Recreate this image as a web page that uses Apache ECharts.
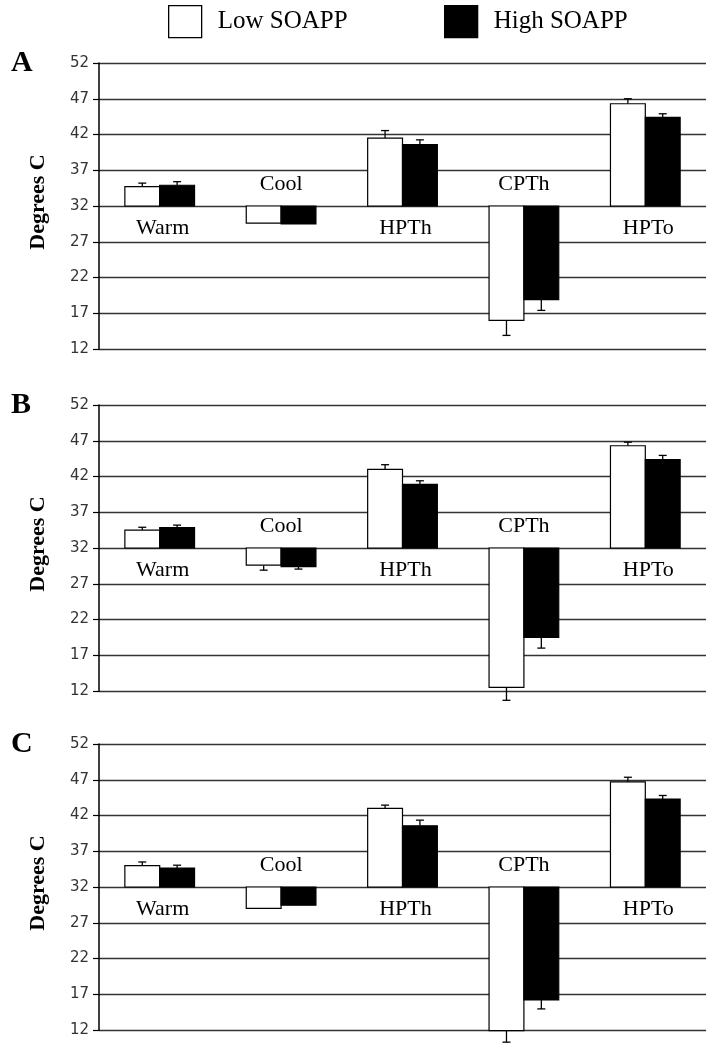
<!DOCTYPE html>
<html>
<head>
<meta charset="utf-8">
<script src="https://cdn.jsdelivr.net/npm/echarts@6/dist/echarts.min.js"></script>
<style>
html,body{margin:0;padding:0;background:#fff;}
#chart{width:714px;height:1050px;}
</style>
</head>
<body>
<div id="chart"></div>
<script>
// ---- data ----
const categories = ['Warm', 'Cool', 'HPTh', 'CPTh', 'HPTo'];
const panels = ['A', 'B', 'C'];
const seriesNames = ['Low SOAPP', 'High SOAPP'];

const lowA     = [34.7, 29.6, 41.5, 16.0, 46.3];
const lowAErr  = [0.5, 0, 1.05, 2.1, 0.7];
const highA    = [34.9, 29.5, 40.6, 18.9, 44.4];
const highAErr = [0.5, 0, 0.65, 1.5, 0.5];

const lowB     = [34.5, 29.6, 43.0, 12.5, 46.3];
const lowBErr  = [0.4, 0.7, 0.65, 1.8, 0.5];
const highB    = [34.85, 29.4, 40.9, 19.5, 44.35];
const highBErr = [0.35, 0.35, 0.5, 1.5, 0.6];

const lowC     = [35.0, 29.0, 43.0, 11.9, 46.7];
const lowCErr  = [0.5, 0, 0.45, 1.6, 0.65];
const highC    = [34.65, 29.45, 40.55, 16.2, 44.3];
const highCErr = [0.4, 0, 0.8, 1.25, 0.5];

const yMin = 12, yMax = 52, yStep = 5;
const baseline = 32;
const yTitle = 'Degrees C';

// ---- build ----
const panelData = [
  {low: lowA, lowErr: lowAErr, high: highA, highErr: highAErr},
  {low: lowB, lowErr: lowBErr, high: highB, highErr: highBErr},
  {low: lowC, lowErr: lowCErr, high: highC, highErr: highCErr}
];
const gridTops = [63, 405, 744];
const gridH = 286;
const BAR_FRAC = 0.287;
const SERIF = '"Liberation Serif", "Times New Roman", serif';

function barRender(side, fill) {
  return function (params, api) {
    const i = api.value(0), v = api.value(1), e = api.value(2);
    const b = api.coord([i, baseline]);
    const t = api.coord([i, v]);
    const bandW = api.size([1, 0])[0];
    const w = bandW * BAR_FRAC;
    const x0 = side < 0 ? b[0] - w : b[0];
    const y0 = Math.min(b[1], t[1]);
    const h = Math.abs(b[1] - t[1]);
    const children = [];
    if (e > 0) {
      const sgn = v >= baseline ? 1 : -1;
      const et = api.coord([i, v + sgn * e]);
      const cx = x0 + w / 2;
      children.push({type: 'line', shape: {x1: cx, y1: t[1], x2: cx, y2: et[1]},
        style: {stroke: '#000', lineWidth: 1.3}});
      children.push({type: 'line', shape: {x1: cx - 4, y1: et[1], x2: cx + 4, y2: et[1]},
        style: {stroke: '#000', lineWidth: 1.3}});
    }
    children.push({type: 'rect', shape: {x: x0, y: y0, width: w, height: h},
      style: {fill: fill, stroke: '#000', lineWidth: 1.2}});
    return {type: 'group', children: children};
  };
}

function labelRender(pd) {
  return function (params, api) {
    const i = api.value(0);
    const b = api.coord([i, baseline]);
    const up = pd.low[i] >= baseline;
    return {
      type: 'text',
      style: {
        text: categories[i], x: b[0] + (up ? 3 : 0), y: up ? b[1] + 22 : b[1] - 22,
        align: 'center', verticalAlign: 'middle',
        font: '22px ' + SERIF, fill: '#000'
      }
    };
  };
}

const grids = [], xAxes = [], yAxes = [], series = [], titles = [];
panelData.forEach((pd, k) => {
  grids.push({left: 99, right: 8, top: gridTops[k], height: gridH});
  xAxes.push({type: 'category', gridIndex: k, data: categories,
    axisLine: {show: false}, axisTick: {show: false}, axisLabel: {show: false},
    splitLine: {show: false}});
  yAxes.push({type: 'value', gridIndex: k, min: yMin, max: yMax, interval: yStep,
    name: yTitle, nameLocation: 'middle', nameRotate: 90, nameGap: 50,
    nameTextStyle: {fontFamily: SERIF, fontWeight: 'bold', fontSize: 22, color: '#000', padding: [0, 0, 0, 8]},
    axisLine: {show: true, lineStyle: {color: '#000', width: 1.5}},
    axisTick: {show: true, inside: false, length: 6, lineStyle: {color: '#000', width: 1.2}},
    axisLabel: {margin: 10, fontFamily: '"DejaVu Sans", sans-serif', fontSize: 15, color: '#333'},
    splitLine: {show: true, lineStyle: {color: '#333', width: 1.4}}});
  series.push({type: 'custom', name: seriesNames[0], xAxisIndex: k, yAxisIndex: k, clip: false,
    itemStyle: {color: '#fff', borderColor: '#000'},
    renderItem: barRender(-1, '#fff'),
    encode: {x: 0, y: 1},
    data: categories.map((c, i) => [i, pd.low[i], pd.lowErr[i]])});
  series.push({type: 'custom', name: seriesNames[1], xAxisIndex: k, yAxisIndex: k, clip: false,
    itemStyle: {color: '#000'},
    renderItem: barRender(1, '#000'),
    encode: {x: 0, y: 1},
    data: categories.map((c, i) => [i, pd.high[i], pd.highErr[i]])});
  series.push({type: 'custom', name: 'labels' + k, xAxisIndex: k, yAxisIndex: k, clip: false,
    silent: true, renderItem: labelRender(pd),
    encode: {x: 0, y: 1},
    data: categories.map((c, i) => [i, baseline])});
  titles.push({text: panels[k], left: 6, top: gridTops[k] - 20,
    textStyle: {fontFamily: SERIF, fontWeight: 'bold', fontSize: 30, color: '#000'}});
});

const chart = echarts.init(document.getElementById('chart'), null, {renderer: 'canvas'});
chart.setOption({
  animation: false,
  backgroundColor: '#fff',
  title: titles,
  legend: [
    {left: 163, top: 0, itemWidth: 33, itemHeight: 32, selectedMode: false,
     textStyle: {fontFamily: SERIF, fontSize: 25, color: '#000', padding: [0, 0, 0, 11]},
     data: [{name: seriesNames[0], icon: 'rect', itemStyle: {color: '#fff', borderColor: '#000', borderWidth: 1.3}}]},
    {left: 439, top: 0, itemWidth: 33, itemHeight: 32, selectedMode: false,
     textStyle: {fontFamily: SERIF, fontSize: 25, color: '#000', padding: [0, 0, 0, 11]},
     data: [{name: seriesNames[1], icon: 'rect', itemStyle: {color: '#000', borderColor: '#000', borderWidth: 1.3}}]}
  ],
  grid: grids,
  xAxis: xAxes,
  yAxis: yAxes,
  series: series
});
</script>
</body>
</html>
